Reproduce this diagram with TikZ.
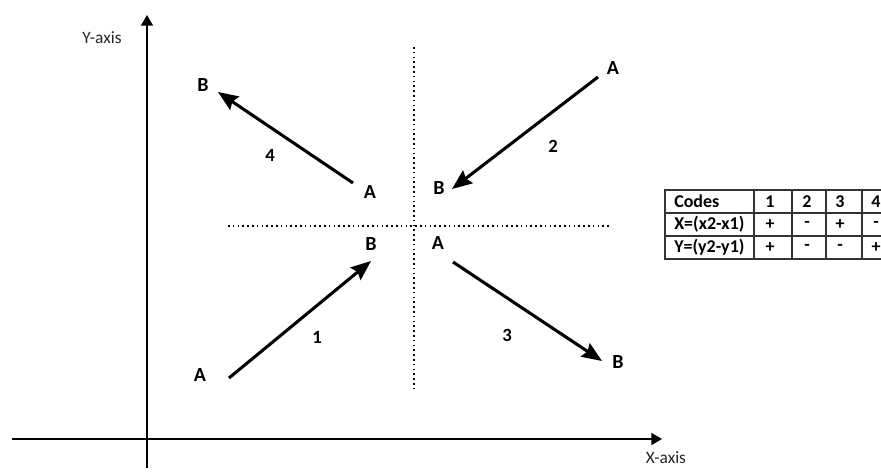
\documentclass[tikz,border=0pt]{standalone}
\usepackage{fontspec}
\setmainfont{Carlito}
\usetikzlibrary{arrows.meta}
\tikzset{
  vec/.style={line width=2.3pt, -{Stealth[length=15pt,width=12pt,inset=2pt]}},
  axis/.style={line width=1.1pt, -{Triangle[length=8pt,width=9pt]}},
  dots/.style={line width=1.6pt, dash pattern=on 1.2pt off 2.4pt},
  pt/.style={font=\fontsize{15}{17}\selectfont\bfseries, inner sep=0pt},
  num/.style={font=\fontsize{14}{16}\selectfont\bfseries, inner sep=0pt},
  axlab/.style={font=\fontsize{13}{15}\selectfont, text=black!85, inner sep=0pt},
  tab/.style={line width=0.9pt, draw=black!80},
  cell/.style={font=\fontsize{13.5}{15}\selectfont\bfseries, inner sep=0pt},
}
\begin{document}
\begin{tikzpicture}[x=0.75pt,y=-0.75pt]
\useasboundingbox (0,0) rectangle (881,471);
\clip (0,0) rectangle (881,471);

% axes
\coordinate (yb) at (147,468);
\coordinate (yt) at (147,15);
\coordinate (xl) at (12,439);
\coordinate (xr) at (662,439);
\draw[axis] (yb) -- (yt);
\draw[axis] (xl) -- (xr);
\node[axlab] (ylab) at (102,38) {Y-axis};
\node[axlab] (xlab) at (666,458) {X-axis};

% dotted quadrant lines
\coordinate (vt) at (414,47);
\coordinate (vb) at (414,389);
\coordinate (hl) at (228,226);
\coordinate (hr) at (610,226);
\draw[dots] (vt) -- (vb);
\draw[dots] (hl) -- (hr);

% arrow 1
\coordinate (s1) at (229,378);
\coordinate (e1) at (371,261);
\draw[vec] (s1) -- (e1);
\node[pt] (A1) at (200,375) {A};
\node[pt] (B1) at (371,244) {B};
\node[num] (n1) at (317,337) {1};

% arrow 2
\coordinate (s2) at (598,77);
\coordinate (e2) at (452,189);
\draw[vec] (s2) -- (e2);
\node[pt] (A2) at (613,68) {A};
\node[pt] (B2) at (439,188) {B};
\node[num] (n2) at (553,146) {2};

% arrow 3
\coordinate (s3) at (453,262);
\coordinate (e3) at (602,361);
\draw[vec] (s3) -- (e3);
\node[pt] (A3) at (438,243) {A};
\node[pt] (B3) at (618,362) {B};
\node[num] (n3) at (507,335) {3};

% arrow 4
\coordinate (s4) at (353,183);
\coordinate (e4) at (218,92);
\draw[vec] (s4) -- (e4);
\node[pt] (A4) at (370,192) {A};
\node[pt] (B4) at (203,85) {B};
\node[num] (n4) at (270,155) {4};

% table
\draw[tab] (665,190) rectangle (900,259);
\draw[tab] (665,213) -- (900,213);
\draw[tab] (665,236) -- (900,236);
\foreach \cx in {754,792,826,862} \draw[tab] (\cx,190) -- (\cx,259);
\node[cell, anchor=west] (c00) at (674,201.5) {Codes};
\node[cell, anchor=west] (c10) at (674,224.5) {X=(x2-x1)};
\node[cell, anchor=west] (c20) at (674,247.5) {Y=(y2-y1)};
\node[cell] (c01) at (770,201.5) {1};
\node[cell] (c02) at (807,201.5) {2};
\node[cell] (c03) at (840,201.5) {3};
\node[cell] (c04) at (876,201.5) {4};
\node[cell] (c11) at (770,224.5) {+};
\node[cell] (c12) at (807,224.5) {-};
\node[cell] (c13) at (840,224.5) {+};
\node[cell] (c14) at (876,224.5) {-};
\node[cell] (c21) at (770,247.5) {+};
\node[cell] (c22) at (807,247.5) {-};
\node[cell] (c23) at (840,247.5) {-};
\node[cell] (c24) at (876,247.5) {+};
\end{tikzpicture}
\end{document}
